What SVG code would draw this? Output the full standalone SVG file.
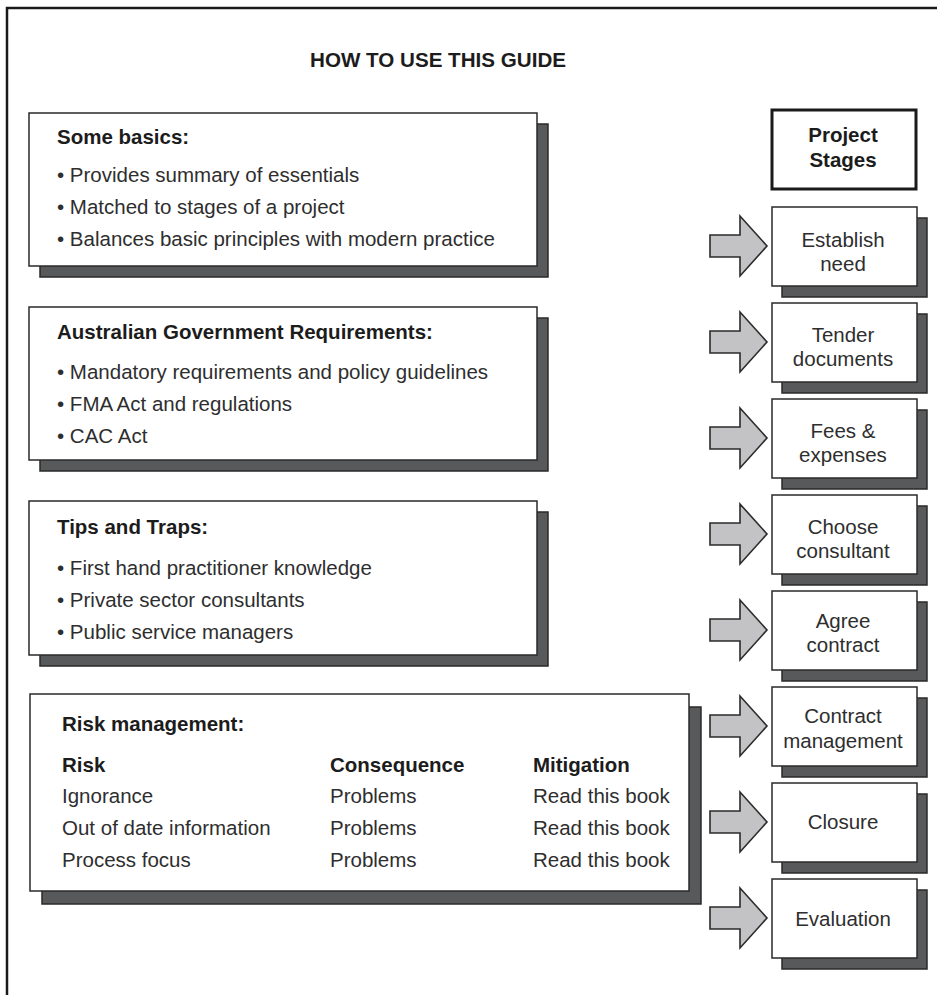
<svg xmlns="http://www.w3.org/2000/svg" width="937" height="995" viewBox="0 0 937 995">
  <style>
    .txt { font-family: "Liberation Sans", Arial, sans-serif; font-size: 20.5px; fill: #2e2e2e; }
    .b { font-weight: bold; fill: #1c1c1c; }
    .c { text-anchor: middle; }
    .box { fill: #ffffff; stroke: #2a2a2a; stroke-width: 1.5; }
    .shadow { fill: #58595b; stroke: #2a2a2a; stroke-width: 1.5; }
    .arrow { fill: #c3c3c5; stroke: #2a2a2a; stroke-width: 1.6; stroke-linejoin: miter; }
  </style>
  <defs>
    <!-- block arrow, tip at (767,0) -->
    <path id="arr" d="M710,-11 H740 V-30 L767,0 L740,30 V11 H710 Z"/>
  </defs>

  <rect width="937" height="995" fill="#ffffff"/>
  <!-- page frame -->
  <path d="M7,995 V8 H937" fill="none" stroke="#1a1a1a" stroke-width="2.5"/>

  <text class="txt b c" x="438" y="67" font-size="21" textLength="256" lengthAdjust="spacingAndGlyphs">HOW TO USE THIS GUIDE</text>

  <!-- left-hand information panels -->
  <g id="basics">
    <rect class="shadow" x="40" y="124" width="508" height="153"/>
    <rect class="box" x="29" y="113" width="508" height="153"/>
    <text class="txt b" x="57" y="144">Some basics:</text>
    <text class="txt" x="57" y="182">• Provides summary of essentials</text>
    <text class="txt" x="57" y="214">• Matched to stages of a project</text>
    <text class="txt" x="57" y="246">• Balances basic principles with modern practice</text>
  </g>

  <g id="requirements">
    <rect class="shadow" x="40" y="318" width="508" height="153"/>
    <rect class="box" x="29" y="307" width="508" height="153"/>
    <text class="txt b" x="57" y="339">Australian Government Requirements:</text>
    <text class="txt" x="57" y="379">• Mandatory requirements and policy guidelines</text>
    <text class="txt" x="57" y="411">• FMA Act and regulations</text>
    <text class="txt" x="57" y="443">• CAC Act</text>
  </g>

  <g id="tips">
    <rect class="shadow" x="40" y="512" width="508" height="154"/>
    <rect class="box" x="29" y="501" width="508" height="154"/>
    <text class="txt b" x="57" y="534">Tips and Traps:</text>
    <text class="txt" x="57" y="575">• First hand practitioner knowledge</text>
    <text class="txt" x="57" y="607">• Private sector consultants</text>
    <text class="txt" x="57" y="639">• Public service managers</text>
  </g>

  <g id="risk">
    <rect class="shadow" x="42" y="707" width="659" height="197"/>
    <rect class="box" x="30" y="694" width="659" height="197"/>
    <text class="txt b" x="62" y="731">Risk management:</text>
    <text class="txt b" x="62" y="772">Risk</text>
    <text class="txt b" x="330" y="772">Consequence</text>
    <text class="txt b" x="533" y="772">Mitigation</text>
    <text class="txt" x="62" y="803">Ignorance</text>
    <text class="txt" x="62" y="835">Out of date information</text>
    <text class="txt" x="62" y="867">Process focus</text>
    <text class="txt" x="330" y="803">Problems</text>
    <text class="txt" x="330" y="835">Problems</text>
    <text class="txt" x="330" y="867">Problems</text>
    <text class="txt" x="533" y="803">Read this book</text>
    <text class="txt" x="533" y="835">Read this book</text>
    <text class="txt" x="533" y="867">Read this book</text>
  </g>

  <!-- project stage column -->
  <g id="stages-header">
    <rect x="772" y="110" width="144" height="79" fill="#ffffff" stroke="#1a1a1a" stroke-width="3"/>
    <text class="txt b c" x="843" y="142">Project</text>
    <text class="txt b c" x="843" y="167">Stages</text>
  </g>

  <g id="stage-establish">
    <rect class="shadow" x="782" y="218" width="145" height="79"/>
    <rect class="box" x="772" y="207" width="145" height="79"/>
    <text class="txt c" x="843" y="247">Establish</text>
    <text class="txt c" x="843" y="271">need</text>
  </g>
  <g id="stage-tender">
    <rect class="shadow" x="782" y="314" width="145" height="79"/>
    <rect class="box" x="772" y="303" width="145" height="79"/>
    <text class="txt c" x="843" y="342">Tender</text>
    <text class="txt c" x="843" y="366">documents</text>
  </g>
  <g id="stage-fees">
    <rect class="shadow" x="782" y="410" width="145" height="79"/>
    <rect class="box" x="772" y="399" width="145" height="79"/>
    <text class="txt c" x="843" y="438">Fees &amp;</text>
    <text class="txt c" x="843" y="462">expenses</text>
  </g>
  <g id="stage-choose">
    <rect class="shadow" x="782" y="506" width="145" height="79"/>
    <rect class="box" x="772" y="495" width="145" height="79"/>
    <text class="txt c" x="843" y="534">Choose</text>
    <text class="txt c" x="843" y="558">consultant</text>
  </g>
  <g id="stage-agree">
    <rect class="shadow" x="782" y="602" width="145" height="79"/>
    <rect class="box" x="772" y="591" width="145" height="79"/>
    <text class="txt c" x="843" y="628">Agree</text>
    <text class="txt c" x="843" y="652">contract</text>
  </g>
  <g id="stage-management">
    <rect class="shadow" x="782" y="698" width="145" height="79"/>
    <rect class="box" x="772" y="687" width="145" height="79"/>
    <text class="txt c" x="843" y="723">Contract</text>
    <text class="txt c" x="843" y="748">management</text>
  </g>
  <g id="stage-closure">
    <rect class="shadow" x="782" y="794" width="145" height="79"/>
    <rect class="box" x="772" y="783" width="145" height="79"/>
    <text class="txt c" x="843" y="829">Closure</text>
  </g>
  <g id="stage-evaluation">
    <rect class="shadow" x="782" y="890" width="145" height="79"/>
    <rect class="box" x="772" y="879" width="145" height="79"/>
    <text class="txt c" x="843" y="926">Evaluation</text>
  </g>

  <!-- block arrows pointing into each stage -->
  <g id="connectors">
    <use href="#arr" class="arrow" y="246"/>
    <use href="#arr" class="arrow" y="342"/>
    <use href="#arr" class="arrow" y="438"/>
    <use href="#arr" class="arrow" y="534"/>
    <use href="#arr" class="arrow" y="630"/>
    <use href="#arr" class="arrow" y="726"/>
    <use href="#arr" class="arrow" y="822"/>
    <use href="#arr" class="arrow" y="918"/>
  </g>
</svg>
